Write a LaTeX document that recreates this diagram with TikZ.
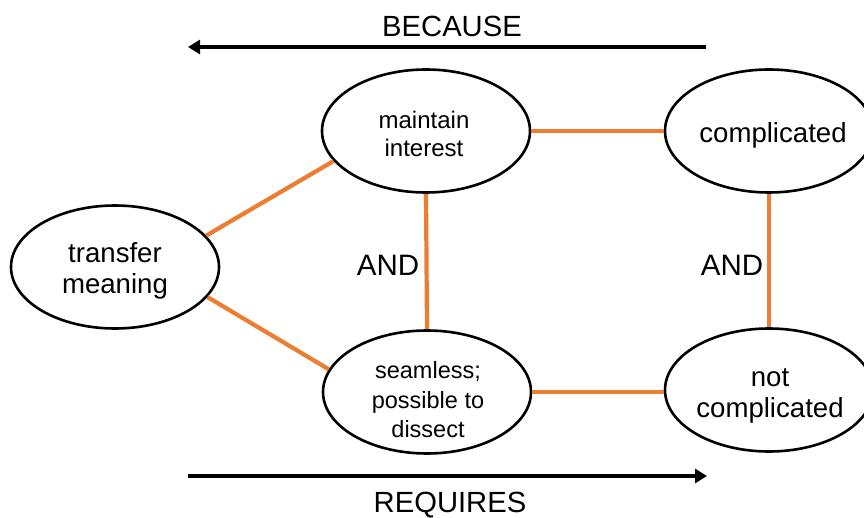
\documentclass[tikz,border=0pt]{standalone}
\usepackage{fontspec}
\setmainfont{Liberation Sans}
\usetikzlibrary{shapes.geometric,arrows.meta}
\definecolor{lineorange}{HTML}{ED7D31}
\tikzset{
  el/.style={ellipse, draw=black, line width=2.6pt, minimum width=208pt, minimum height=123pt, inner sep=0pt, fill=white},
  link/.style={draw=lineorange, line width=4.2pt},
  bigarrow/.style={draw=black, line width=4pt, -{Triangle[length=12pt,width=14pt]}},
  txt/.style={align=center, inner sep=0pt}
}
\begin{document}
\begin{tikzpicture}[x=1pt,y=-1pt]
\useasboundingbox (0,0) rectangle (864,518);
\clip (0,0) rectangle (864,518);
% ellipses
\node[el] (tm) at (115,267) {};
\node[el] (mi) at (426,131) {};
\node[el] (co) at (769,131) {};
\node[el] (sd) at (427,392) {};
\node[el] (nc) at (769,390) {};
% texts
\node[txt, font=\fontsize{27.6}{30.5}\selectfont] (tmt) at (115,271) {transfer\\meaning};
\node[txt, font=\fontsize{24}{28}\selectfont] (mit) at (424,134) {maintain\\interest};
\node[txt, font=\fontsize{27.6}{31}\selectfont] (cot) at (773,135) {complicated};
\node[txt, font=\fontsize{23.5}{29.5}\selectfont] (sdt) at (428,400) {seamless;\\possible to\\dissect};
\node[txt, font=\fontsize{27.6}{31.5}\selectfont] (nct) at (770,396) {not\\complicated};
% connectors
\draw[link] (tm.19) -- (mi.198);
\draw[link] (tm.-18) -- (sd.167);
\draw[link] (mi.east) -- (co.west);
\draw[link] (sd.east) -- (nc.west |- sd.east);
\draw[link] (mi.south) -- (sd.north);
\draw[link] (co.south) -- (nc.north);
% AND labels
\node[txt, font=\fontsize{29.5}{32}\selectfont] (and1) at (388,265) {AND};
\node[txt, font=\fontsize{29.5}{32}\selectfont] (and2) at (732,265) {AND};
% arrows
\coordinate (b1) at (706,47);
\coordinate (b2) at (188,47);
\coordinate (r1) at (188,476);
\coordinate (r2) at (707,476);
\draw[bigarrow] (b1) -- (b2);
\draw[bigarrow] (r1) -- (r2);
\node[txt, font=\fontsize{29.2}{32}\selectfont] (because) at (452,26) {BECAUSE};
\node[txt, font=\fontsize{29.2}{32}\selectfont] (requires) at (450,505) {REQUIRES};
\end{tikzpicture}
\end{document}
